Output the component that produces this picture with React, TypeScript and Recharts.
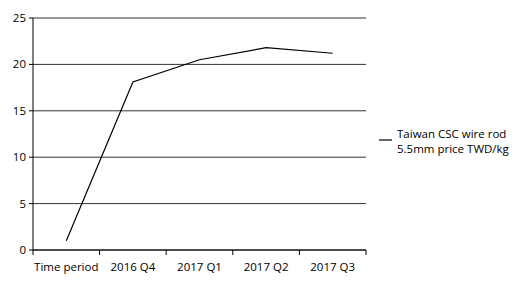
import { LineChart, Line, XAxis, YAxis, CartesianGrid, Legend } from 'recharts';

const periods = ['Time period', '2016 Q4', '2017 Q1', '2017 Q2', '2017 Q3'];
const prices = [1.0, 18.1, 20.5, 21.8, 21.2];
const yTicks = [0, 5, 10, 15, 20, 25];
const seriesName = ['Taiwan CSC wire rod', '5.5mm price TWD/kg'];

const chartData = periods.map((p, i) => ({ period: p, price: prices[i] }));

const FONT = '"Open Sans", "DejaVu Sans", sans-serif';

function PeriodTick(props: any) {
  const { x, y, payload, index } = props;
  const half = payload && payload.offset ? payload.offset : 33.3;
  const last = index === periods.length - 1;
  return (
    <g>
      <line x1={x - half} y1={y} x2={x - half} y2={y + 5} stroke="#000" />
      {last && <line x1={x + half} y1={y} x2={x + half} y2={y + 5} stroke="#000" />}
      <text x={x} y={y + 21} textAnchor="middle" fontSize={11.5} fill="#000" fontFamily={FONT}>
        {payload.value}
      </text>
    </g>
  );
}

function LegendBox() {
  return (
    <svg width={140} height={34} style={{ overflow: 'visible' }}>
      <line x1={0} y1={11} x2={13} y2={11} stroke="#000" strokeWidth={1.2} />
      <text x={18} y={9} fontSize={11.5} fill="#000" fontFamily={FONT}>{seriesName[0]}</text>
      <text x={18} y={24} fontSize={11.5} fill="#000" fontFamily={FONT}>{seriesName[1]}</text>
    </svg>
  );
}

export default function App() {
  return (
    <div style={{ position: 'absolute', left: 0, top: 0, background: '#fff' }}>
      <LineChart width={526} height={294} data={chartData} margin={{ top: 18, right: 160, bottom: 14, left: 0 }}>
        <CartesianGrid vertical={false} stroke="#333" strokeWidth={1} />
        <XAxis
          dataKey="period"
          scale="band"
          height={30}
          tickSize={0}
          tickMargin={0}
          tickLine={false}
          axisLine={{ stroke: '#000' }}
          tick={<PeriodTick />}
          interval={0}
        />
        <YAxis
          domain={[0, 25]}
          ticks={yTicks}
          width={33}
          tickSize={4}
          tickMargin={3}
          axisLine={{ stroke: '#000' }}
          tickLine={{ stroke: '#000' }}
          tick={{ fontSize: 11.5, fill: '#000', fontFamily: FONT }}
        />
        <Legend
          layout="horizontal"
          verticalAlign="middle"
          content={() => <LegendBox />}
          wrapperStyle={{ position: 'absolute', left: 379, top: 129, width: 140, height: 34 }}
        />
        <Line
          type="linear"
          dataKey="price"
          stroke="#000"
          strokeWidth={1.2}
          dot={false}
          activeDot={false}
          isAnimationActive={false}
        />
      </LineChart>
    </div>
  );
}
